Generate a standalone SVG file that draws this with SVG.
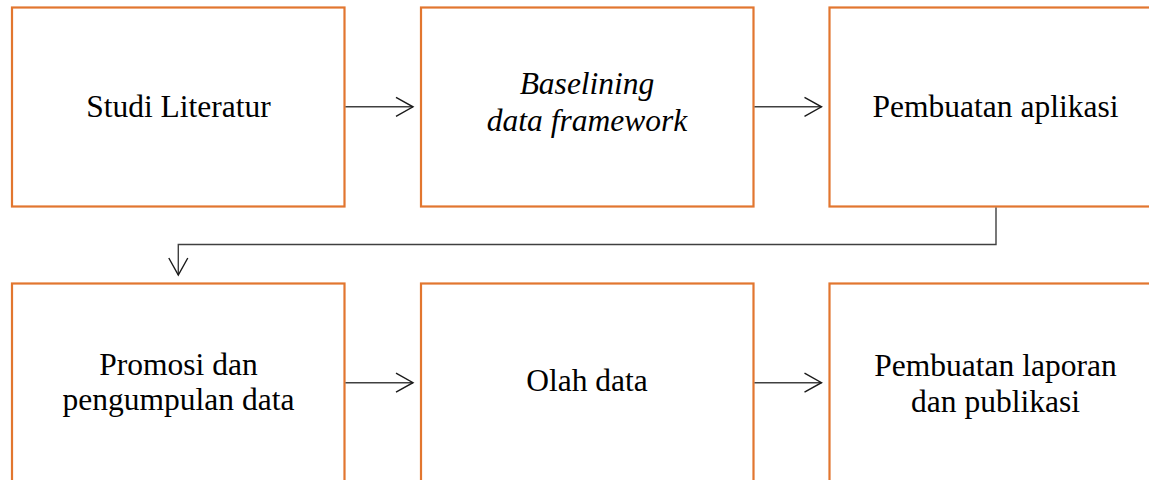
<svg xmlns="http://www.w3.org/2000/svg" width="1149" height="480" viewBox="0 0 1149 480">
<defs>
<style>
.box{fill:#ffffff;stroke:#E2762F;stroke-width:2.2}
.lbl{font-family:"Liberation Serif","Times New Roman",serif;font-size:31.5px;fill:#000000;text-anchor:middle}
.it{font-style:italic}
.con{fill:none;stroke:#404040;stroke-width:1.4}
</style>
<marker id="arr" markerUnits="userSpaceOnUse" markerWidth="24" markerHeight="24" viewBox="-20 -12 24 24" refX="0" refY="0" orient="auto">
<path d="M-17,-9.5 L0,0 L-17,9.5" fill="none" stroke="#1a1a1a" stroke-width="1.4"/>
</marker>
</defs>
<rect width="1149" height="480" fill="#ffffff"/>
<g id="n1"><rect class="box" x="12" y="7.5" width="332.5" height="199"/><text class="lbl" x="178.5" y="117">Studi Literatur</text></g>
<g id="n2"><rect class="box" x="421" y="7.5" width="332.5" height="199"/><text class="lbl it" x="587" y="93.5">Baselining</text><text class="lbl it" x="587" y="130.5">data framework</text></g>
<g id="n3"><rect class="box" x="829.5" y="7.5" width="332.5" height="199"/><text class="lbl" x="995.5" y="116.5">Pembuatan aplikasi</text></g>
<g id="n4"><rect class="box" x="12" y="283.5" width="332.5" height="199"/><text class="lbl" x="178.5" y="375">Promosi dan</text><text class="lbl" x="178.5" y="409.5">pengumpulan data</text></g>
<g id="n5"><rect class="box" x="421" y="283.5" width="332.5" height="199"/><text class="lbl" x="587" y="391">Olah data</text></g>
<g id="n6"><rect class="box" x="829.5" y="283.5" width="332.5" height="199"/><text class="lbl" x="995.5" y="376">Pembuatan laporan</text><text class="lbl" x="995.5" y="411.5">dan publikasi</text></g>
<g id="connectors">
<path class="con" d="M345.5,106.8 H413" marker-end="url(#arr)"/>
<path class="con" d="M754.5,106.8 H821.5" marker-end="url(#arr)"/>
<path class="con" d="M996,207.5 V244.5 H178.3 V275" marker-end="url(#arr)"/>
<path class="con" d="M345.5,382.7 H413" marker-end="url(#arr)"/>
<path class="con" d="M754.5,382.7 H821.5" marker-end="url(#arr)"/>
</g>
</svg>
